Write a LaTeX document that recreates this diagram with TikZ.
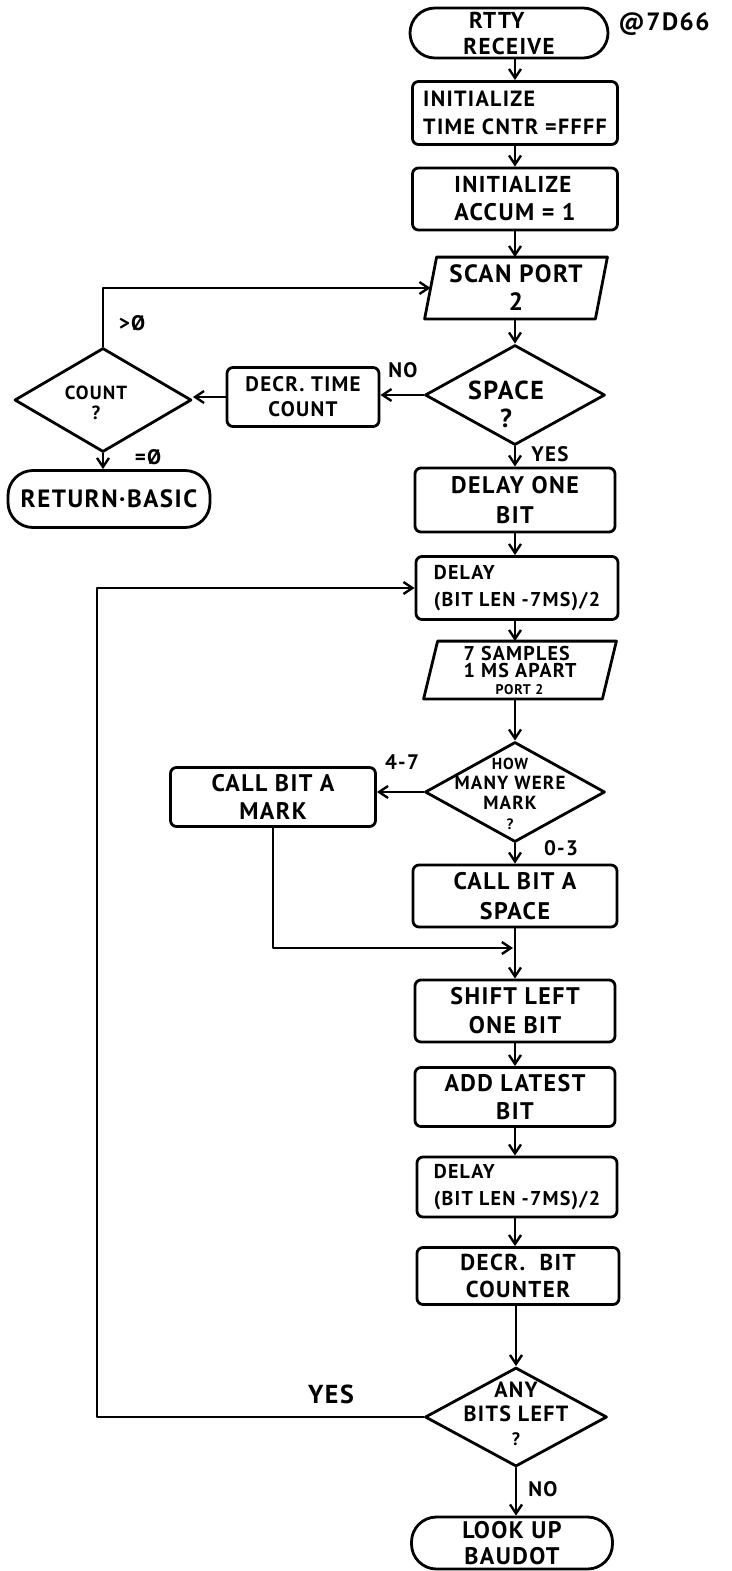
\documentclass[tikz,border=0pt]{standalone}
\usepackage{fontspec}
\setmainfont{PT Sans}[LetterSpace=6]
\usetikzlibrary{shapes.geometric,arrows.meta}
\newcommand{\fs}[2]{\fontsize{#1}{#2}\selectfont\bfseries}
\begin{document}
\begin{tikzpicture}[x=1pt,y=-1pt,
  line width=2.8pt, line join=round, line cap=round,
  box/.style={draw, rounded corners=6pt, inner sep=0pt, align=center, font=\fs{23}{28}},
  term/.style={draw, rounded corners=25pt, inner sep=0pt, align=center, font=\fs{23}{26}},
  io/.style={inner sep=0pt, align=center, font=\fs{23}{28}},
  dia/.style={draw, diamond, inner sep=0pt},
  dtext/.style={inner sep=0pt, align=center},
  lbl/.style={inner sep=0pt, font=\fs{21}{24}},
  arr/.style={-{Straight Barb[length=9pt,width=12pt,line width=2.4pt]}}]
\useasboundingbox (0,0) rectangle (731,1571);
\fill[white] (0,0) rectangle (731,1571);

% main column
\node[term, minimum width=198pt, minimum height=50pt, align=left] (rtty) at (509,33) {\hspace*{0.25em}RTTY\\RECEIVE};
\node[lbl, font=\fs{25}{28}] (addr) at (664,24) {@7D66};
\node[box, minimum width=205pt, minimum height=63pt, align=left, font=\fs{22}{28}] (init1) at (515,113) {INITIALIZE\\TIME CNTR =FFFF};
\node[box, minimum width=205pt, minimum height=62pt, align=left] (init2) at (515,199) {INITIALIZE\\{\fs{24}{28}ACCUM = 1}};
\node[io, minimum width=168pt, minimum height=59pt, font=\fs{25}{28}] (scan) at (516,288) {SCAN PORT\\2};
\draw ([xshift=-6pt]scan.south west) -- ([xshift=6pt]scan.north west) -- ([xshift=6pt]scan.north east) -- ([xshift=-6pt]scan.south east) -- cycle;
\node[dia, minimum width=180pt, minimum height=100pt] (space) at (515,395) {};
\node[dtext, font=\fs{26}{28}] (spacet) at (506,404) {SPACE\\?};
\node[box, minimum width=200pt, minimum height=64pt, font=\fs{24}{30}] (delay1) at (515,500) {DELAY ONE\\BIT};
\node[box, minimum width=202pt, minimum height=63pt, align=left, font=\fs{20}{27}] (delay2) at (517,588) {DELAY\\(BIT LEN -7MS)/2};
\node[io, minimum width=176pt, minimum height=55pt, font=\fs{20}{17}, align=left] (samples) at (520,670) {7 SAMPLES\\1 MS APART\\\hspace*{1.6em}{\fs{14}{14}PORT 2}};
\draw ([xshift=-7pt]samples.south west) -- ([xshift=7pt]samples.north west) -- ([xshift=7pt]samples.north east) -- ([xshift=-7pt]samples.south east) -- cycle;
\node[dia, minimum width=180pt, minimum height=100pt] (howmany) at (515,792) {};
\node[dtext, font=\fs{19}{20}] (howmanyt) at (510,794) {{\fs{16}{20}HOW}\\MANY WERE\\MARK\\{\fs{15}{15}?}};
\node[box, minimum width=204pt, minimum height=62pt, font=\fs{24}{30}] (callspace) at (515,896) {CALL BIT A\\SPACE};
\node[box, minimum width=200pt, minimum height=62pt, font=\fs{24}{29}] (shift) at (515,1011) {SHIFT LEFT\\ONE BIT};
\node[box, minimum width=200pt, minimum height=59pt, font=\fs{24}{28}] (add) at (515,1097) {ADD LATEST\\BIT};
\node[box, minimum width=200pt, minimum height=60pt, align=left, font=\fs{20}{27}] (delay3) at (517,1187) {DELAY\\(BIT LEN -7MS)/2};
\node[box, minimum width=202pt, minimum height=57pt, font=\fs{23}{27}] (decrb) at (518,1276) {DECR.\ \ BIT\\COUNTER};
\node[dia, minimum width=182pt, minimum height=99pt] (anyb) at (516,1417) {};
\node[dtext, font=\fs{22}{24}] (anybt) at (516,1414) {ANY\\BITS LEFT\\{\fs{18}{20}?}};
\node[term, minimum width=201pt, minimum height=52pt, font=\fs{24}{26}] (lookup) at (512,1543) {LOOK UP\\BAUDOT};

% side nodes
\node[box, minimum width=152pt, minimum height=59pt, font=\fs{21}{25}] (decrt) at (303,397) {DECR.\ TIME\\COUNT};
\node[dia, minimum width=177pt, minimum height=104pt] (count) at (103,400) {};
\node[dtext, font=\fs{19}{20}] (countt) at (96,403) {COUNT\\?};
\node[term, minimum width=202pt, minimum height=57pt, font=\fs{25}{28}] (ret) at (109,499) {RETURN·BASIC};
\node[box, minimum width=205pt, minimum height=59pt, font=\fs{24}{28}] (mark) at (273,797) {CALL BIT A\\MARK};

% connectors
\draw[arr] (rtty.south -| init1.north) -- (init1.north);
\draw[arr] (init1) -- (init2);
\draw[arr] (init2.south) -- (init2.south |- scan.north);
\draw[arr] (scan.south -| space.north) -- (space.north);
\draw[arr] (space.south) -- (space.south |- delay1.north);
\draw[arr] (space.west) -- (space.west -| decrt.east);
\draw[arr] (decrt.west) -- (decrt.west -| count.east);
\draw[arr] (count.north) |- (scan.west);
\draw[arr] (count.south) -- (count.south |- ret.north);
\draw[arr] (delay1.south) -- (delay1.south |- delay2.north);
\draw[arr] (delay1.south |- delay2.south) -- (delay1.south |- samples.north);
\draw[arr] (howmany.north |- samples.south) -- (howmany.north);
\draw[arr] (howmany.west) -- (howmany.west -| mark.east);
\draw[arr] (howmany.south) -- (howmany.south |- callspace.north);
\coordinate (merge) at (513,948);
\draw[arr] (mark.south) |- (merge);
\draw[arr] (callspace.south) -- (callspace.south |- shift.north);
\draw[arr] (shift) -- (add);
\draw[arr] (add.south) -- (add.south |- delay3.north);
\draw[arr] (add.south |- delay3.south) -- (add.south |- decrb.north);
\draw[arr] (anyb.north |- decrb.south) -- (anyb.north);
\draw[arr] (anyb.south) -- (anyb.south |- lookup.north);
\coordinate (ltop) at (97,588);
\draw[arr] (anyb.west) -| (ltop) -- (delay2.west);

% labels
\node[lbl] (lno1) at (403,370) {NO};
\node[lbl] (lyes1) at (550,454) {YES};
\node[lbl] (lgt) at (132,323) {>Ø};
\node[lbl] (leq) at (148,457) {=Ø};
\node[lbl] (l47) at (402,762) {4-7};
\node[lbl] (l03) at (561,848) {0-3};
\node[lbl, font=\fs{26}{28}] (lyes2) at (331,1394) {YES};
\node[lbl] (lno2) at (543,1489) {NO};
\end{tikzpicture}
\end{document}
